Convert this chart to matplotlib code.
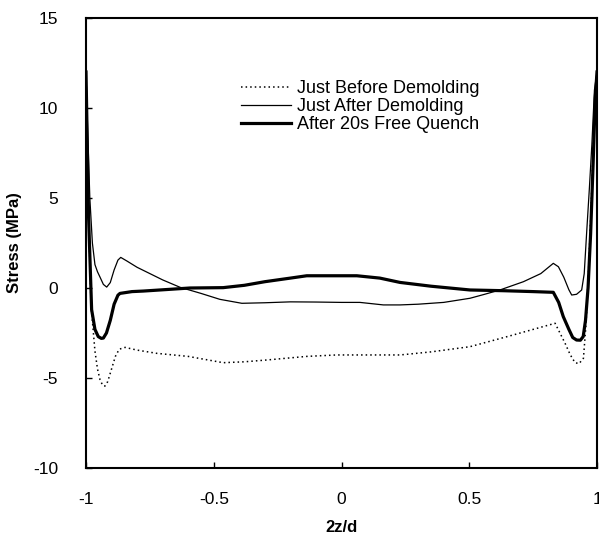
import matplotlib
matplotlib.use("Agg")
import matplotlib.pyplot as plt

plt.rcParams['font.family'] = ['Liberation Sans', 'DejaVu Sans']
plt.rcParams['axes.unicode_minus'] = False

# Just Before Demolding (dotted)
x_before = [-1, -0.99, -0.98, -0.965, -0.955, -0.945, -0.935, -0.926, -0.915, -0.9, -0.885, -0.87,
            -0.847, -0.8, -0.723, -0.6, -0.463, -0.38, -0.293, -0.136, -0.019, 0.1, 0.229, 0.35,
            0.503, 0.672, 0.75, 0.836, 0.855, 0.875, 0.895, 0.914, 0.93, 0.947, 0.957, 0.967,
            0.977, 0.987, 0.995, 1.0]
y_before = [12, 4, -1.0, -3.5, -4.5, -5.1, -5.4, -5.45, -5.2, -4.5, -3.8, -3.4,
            -3.3, -3.45, -3.63, -3.8, -4.15, -4.1, -4.0, -3.8, -3.72, -3.72, -3.72, -3.55,
            -3.26, -2.61, -2.3, -1.96, -2.5, -3.07, -3.7, -4.15, -4.2, -3.9, -2.0, 1.0,
            4.5, 8.5, 11, 12]

# Just After Demolding (thin)
x_after = [-1, -0.993, -0.985, -0.975, -0.965, -0.955, -0.945, -0.932, -0.919, -0.905, -0.89,
           -0.875, -0.864, -0.84, -0.8, -0.75, -0.7, -0.632, -0.55, -0.476, -0.39, -0.3, -0.2,
           -0.1, 0.0, 0.072, 0.164, 0.229, 0.3, 0.4, 0.503, 0.56, 0.62, 0.712, 0.78, 0.829,
           0.849, 0.87, 0.89, 0.901, 0.92, 0.94, 0.95, 0.96, 0.97, 0.98, 0.99, 1.0]
y_after = [12, 8.5, 5, 2.5, 1.3, 0.9, 0.6, 0.2, 0.05, 0.3, 1.0,
           1.55, 1.7, 1.5, 1.15, 0.8, 0.45, 0.04, -0.3, -0.63, -0.85, -0.82, -0.77,
           -0.78, -0.8, -0.8, -0.94, -0.94, -0.9, -0.8, -0.57, -0.35, -0.11, 0.35, 0.8, 1.37,
           1.18, 0.6, -0.1, -0.39, -0.35, -0.11, 0.8, 3.2, 5.5, 8, 11, 12]

# After 20s Free Quench (thick)
x_quench = [-1, -0.99, -0.978, -0.965, -0.952, -0.94, -0.932, -0.92, -0.905, -0.89, -0.875,
            -0.867, -0.82, -0.776, -0.7, -0.593, -0.463, -0.38, -0.3, -0.2, -0.136, 0.06, 0.15,
            0.229, 0.35, 0.503, 0.633, 0.75, 0.829, 0.85, 0.868, 0.89, 0.905, 0.92, 0.935,
            0.946, 0.955, 0.965, 0.975, 0.985, 0.993, 1.0]
y_quench = [12, 4, -1.2, -2.3, -2.7, -2.8, -2.78, -2.5, -1.8, -0.9, -0.4,
            -0.3, -0.2, -0.17, -0.1, 0.0, 0.02, 0.15, 0.35, 0.55, 0.68, 0.68, 0.55,
            0.31, 0.1, -0.11, -0.15, -0.2, -0.24, -0.8, -1.59, -2.3, -2.75, -2.89, -2.9,
            -2.7, -1.8, 0.0, 3.0, 7.0, 10.5, 12]

labels = ["Just Before Demolding", "Just After Demolding", "After 20s Free Quench"]
x_ticks = [-1, -0.5, 0, 0.5, 1]
x_ticklabels = ["-1", "-0.5", "0", "0.5", "1"]
y_ticks = [-10, -5, 0, 5, 10, 15]

W, H = 599, 544
fig = plt.figure(figsize=(W / 100, H / 100), dpi=100)
ax = fig.add_axes([86 / W, 1 - 468 / H, 511 / W, 450 / H])

ax.plot(x_before, y_before, color='black', lw=1.1, linestyle=(0, (1, 2)), label=labels[0])
ax.plot(x_after, y_after, color='black', lw=0.9, label=labels[1])
ax.plot(x_quench, y_quench, color='black', lw=2.3, label=labels[2])

ax.set_xlim(-1, 1)
ax.set_ylim(-10, 15)
ax.set_xticks(x_ticks)
ax.set_xticklabels(x_ticklabels)
ax.set_yticks(y_ticks)
ax.tick_params(direction='in', length=4, width=1, labelsize=12.5)
ax.tick_params(axis='x', pad=17)
ax.tick_params(axis='y', pad=20)
for s in ax.spines.values():
    s.set_linewidth(1.5)

ax.set_xlabel("2z/d", fontsize=12, fontweight='bold', labelpad=10)
ax.set_ylabel("Stress (MPa)", fontsize=12, fontweight='bold', labelpad=8)

leg = ax.legend(loc='upper left', bbox_to_anchor=(0.303, 0.862), frameon=False,
                fontsize=13, handlelength=2.8, handletextpad=0.3, labelspacing=0.05,
                borderpad=0, borderaxespad=0)

fig.savefig("out.png", dpi=100)
